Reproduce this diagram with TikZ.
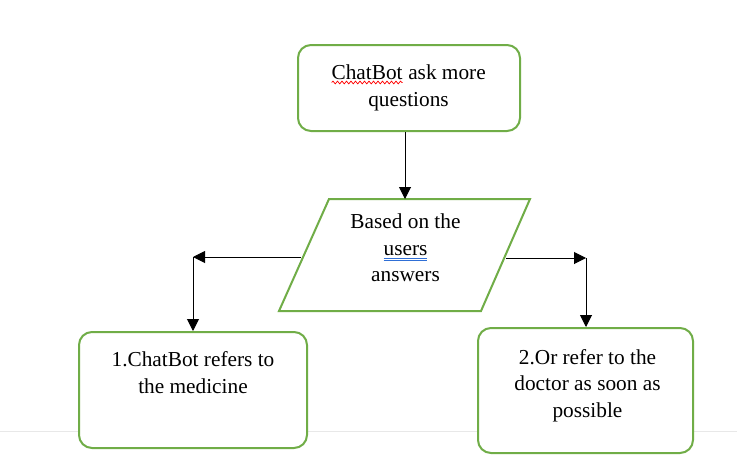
\documentclass[tikz,border=0pt]{standalone}
\usepackage{fontspec}
\setmainfont{Liberation Serif}
\usetikzlibrary{arrows.meta,decorations.pathmorphing}
\definecolor{boxgreen}{HTML}{70AD47}
\definecolor{spellblue}{HTML}{2F6FD6}
\definecolor{pagerule}{HTML}{E8E8E8}
\newcommand\wavyword[1]{\tikz[baseline=(ww.base)]{\node[inner sep=0pt,outer sep=0pt,draw=none,fill=none](ww){#1};\draw[red,line width=0.7pt,decorate,decoration={snake,amplitude=1.4pt,segment length=4.5pt}]([yshift=-3pt]ww.base west)--([yshift=-3pt]ww.base east);}}
\newcommand\dblword[1]{\tikz[baseline=(dw.base)]{\node[inner sep=0pt,outer sep=0pt,draw=none,fill=none](dw){#1};\draw[spellblue,line width=0.6pt]([yshift=-3pt]dw.base west)--([yshift=-3pt]dw.base east) ([yshift=-5pt]dw.base west)--([yshift=-5pt]dw.base east);}}
\begin{document}
\begin{tikzpicture}[x=1pt,y=-1pt,
  box/.style={draw=boxgreen,line width=2pt,rounded corners=13pt,fill=white,inner sep=0pt},
  txt/.style={font=\fontsize{21.3}{26.5}\selectfont,align=center,inner sep=0pt,anchor=base},
  arr/.style={-{Triangle[length=12pt,width=12pt]},line width=1pt}]
\useasboundingbox (0,0) rectangle (737,474);
\fill[white] (0,0) rectangle (737,474);
\draw[pagerule,line width=1pt] (0,431) -- (737,431);
% boxes
\node[box,minimum width=222pt,minimum height=86pt] (top) at (409,88) {};
\node[box,minimum width=228pt,minimum height=116pt] (b1) at (193,390) {};
\node[box,minimum width=215pt,minimum height=125pt] (b2) at (585.5,390.5) {};
% parallelogram
\coordinate (p1) at (329,199);
\coordinate (p2) at (530,199);
\coordinate (p3) at (481,311);
\coordinate (p4) at (279,311);
\draw[draw=boxgreen,line width=2pt,fill=white] (p1) -- (p2) -- (p3) -- (p4) -- cycle;
% connectors
\coordinate (ptop) at (405,199);
\coordinate (pl) at (301,257);
\coordinate (pr) at (506,258);
\coordinate (lc) at (193,257);
\coordinate (rc) at (586,258);
\draw[arr] (top.south -| ptop) -- (ptop);
\draw[arr] (pl) -- (lc);
\draw[arr] (lc) -- (lc |- b1.north);
\draw[arr] (pr) -- (rc);
\draw[arr] (rc) -- (rc |- b2.north);
% texts (anchor base = baseline of the last line)
\node[txt] (toptext) at (408.5,106) {\wavyword{ChatBot} ask more\\questions};
\node[txt] (paratext) at (405.5,281.5) {Based on the\\\dblword{users}\\answers};
\node[txt] (b1text) at (193,393.3) {1.ChatBot refers to\\the medicine};
\node[txt] (b2text) at (587.5,417) {2.Or refer to the\\doctor as soon as\\possible};
\end{tikzpicture}
\end{document}
